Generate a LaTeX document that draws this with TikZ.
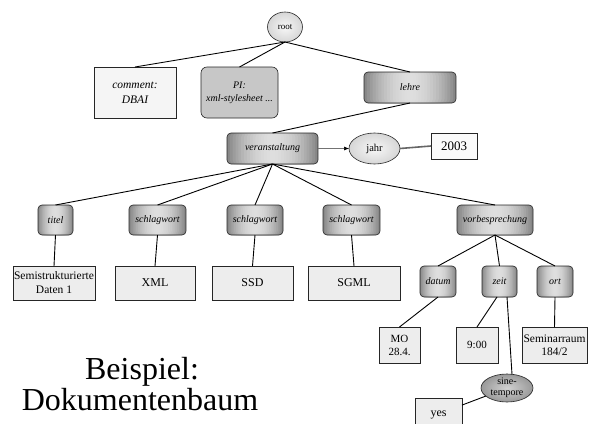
\documentclass[tikz,border=0pt]{standalone}
\usepackage{fontspec}
\setmainfont{Liberation Serif}
\usetikzlibrary{shapes.geometric,arrows.meta,calc}
\newcommand{\fs}[1]{\fontsize{#1}{#1}\selectfont}
\tikzset{
  every node/.style={inner sep=0pt, outer sep=0pt, align=center},
  % brushed-metal look: nested bands, dark at both ends, light in the middle
  metal/.style={rectangle, rounded corners=4pt, draw=black!85, line width=0.6pt,
    font=\fs{10}\itshape, minimum height=30pt,
    path picture={
      \foreach \i in {0,...,15}{
        \pgfmathsetmacro\w{1-\i/16}
        \pgfmathsetmacro\g{13+34*\w*\w}
        \fill[black!\g]
          ($(path picture bounding box.south west)!{(1-\w)/2}!(path picture bounding box.south east)$)
          rectangle
          ($(path picture bounding box.north west)!{(1+\w)/2}!(path picture bounding box.north east)$);
      }
    }},
  leaf/.style={rectangle, draw=black!85, line width=0.6pt, fill=black!7,
    font=\fs{12}, minimum height=34pt},
  attr/.style={ellipse, draw=black!85, line width=0.6pt, shading=radial,
    inner color=black!3, outer color=black!16},
  link/.style={draw=black, line width=0.9pt},
}
\begin{document}
\begin{tikzpicture}[x=1pt, y=1pt]
  \clip (0,0) rectangle (591,-423);
  \fill[white] (0,0) rectangle (591,-423);

  % upper part of the document tree
  \node[attr, minimum width=35pt, minimum height=30pt, font=\fs{9}] (root) at (285,-27) {root};
  \node[leaf, fill=black!4, minimum width=82pt, minimum height=51pt,
        font=\fontsize{11.5}{15}\selectfont\itshape] (comment) at (135,-92.5) {comment:\\DBAI};
  \node[rectangle, rounded corners=6pt, draw=black!85, line width=0.6pt, fill=black!22,
        minimum width=77pt, minimum height=51pt, font=\fontsize{10}{13}\selectfont\itshape]
        (pi) at (239.5,-92.5) {PI:\\xml-stylesheet ...};
  \node[metal, minimum width=92pt, minimum height=31pt] (lehre) at (410,-87.5) {lehre};
  \node[metal, minimum width=91pt, minimum height=31pt] (veran) at (272.5,-148.5) {veranstaltung};
  \node[attr, minimum width=51pt, minimum height=31pt, font=\fs{10.5}] (jahr) at (374.5,-148.5) {jahr};
  \node[leaf, fill=black!2, minimum width=46pt, minimum height=26pt, font=\fs{13}] (y2003) at (454,-146) {2003};

  % elements below veranstaltung
  \node[metal, minimum width=35pt] (titel)  at (55.5,-220)  {titel};
  \node[metal, minimum width=57pt] (swA)    at (157.5,-220) {schlagwort};
  \node[metal, minimum width=56pt] (swB)    at (255,-220)   {schlagwort};
  \node[metal, minimum width=57pt] (swC)    at (351.5,-220) {schlagwort};
  \node[metal, minimum width=76pt] (vorb)   at (495,-220)   {vorbesprechung};

  \node[leaf, minimum width=82pt, font=\fontsize{11.5}{14}\selectfont] (semi) at (54,-283) {Semistrukturierte\\Daten 1};
  \node[leaf, minimum width=80pt] (xml)  at (155,-283)   {XML};
  \node[leaf, minimum width=81pt] (ssd)  at (252.5,-283) {SSD};
  \node[leaf, minimum width=92pt] (sgml) at (354,-283)   {SGML};

  % elements below vorbesprechung
  \node[metal, minimum width=36pt, minimum height=31pt] (datum) at (438,-281.5)   {datum};
  \node[metal, minimum width=35pt, minimum height=31pt] (zeit)  at (499.5,-281.5) {zeit};
  \node[metal, minimum width=36pt, minimum height=31pt] (ort)   at (555,-281.5)   {ort};

  \node[leaf, minimum width=41pt, minimum height=36pt, font=\fontsize{11}{13}\selectfont] (mo) at (399.5,-345) {MO\\28.4.};
  \node[leaf, minimum width=42pt, minimum height=36pt, font=\fs{11}] (t900) at (477,-345) {9:00};
  \node[leaf, minimum width=65pt, minimum height=36pt, font=\fontsize{11.5}{13}\selectfont] (room) at (554.5,-345) {Seminarraum\\184/2};

  \node[attr, inner color=black!18, outer color=black!40, minimum width=52pt, minimum height=28pt,
        font=\fontsize{10}{11}\selectfont] (sine) at (507,-388) {sine-\\tempore};
  \node[leaf, minimum width=47pt, minimum height=32pt] (yes) at (438.5,-414) {};
  \node[font=\fs{12}, anchor=base] (yestext) at (438.5,-416) {yes};

  % caption
  \node[font=\fs{32}, anchor=base] (cap1) at (142,-379) {Beispiel:};
  \node[font=\fs{32}, anchor=base] (cap2) at (140,-410) {Dokumentenbaum};

  % connectors
  \foreach \c in {comment,pi,lehre} \draw[link] (root.south) -- (\c.north);
  \draw[link] (lehre.south) -- (veran.north);
  \foreach \c in {titel,swA,swB,swC,vorb} \draw[link] (veran.south) -- (\c.north);
  \draw[draw=black!55, line width=0.6pt, -{Latex[length=5pt,width=4pt,color=black]}] (veran.east) -- (jahr.west);
  \draw[draw=black!60, line width=1.6pt] (jahr.east) -- (y2003.west);
  \draw[link] (titel.south) -- (semi.north);
  \draw[link] (swA.south) -- (xml.north);
  \draw[link] (swB.south) -- (ssd.north);
  \draw[link] (swC.south) -- (sgml.north);
  \foreach \c in {datum,zeit,ort} \draw[link] (vorb.south) -- (\c.north);
  \draw[link] (datum.south) -- (mo.north);
  \draw[link] ([xshift=-2.5pt]zeit.south) -- (t900.north);
  \draw[link] ([xshift=7.5pt]zeit.south) -- (sine.70);
  \draw[link] (ort.south) -- (room.north);
  \draw[link] (sine) -- (yes);
\end{tikzpicture}
\end{document}
